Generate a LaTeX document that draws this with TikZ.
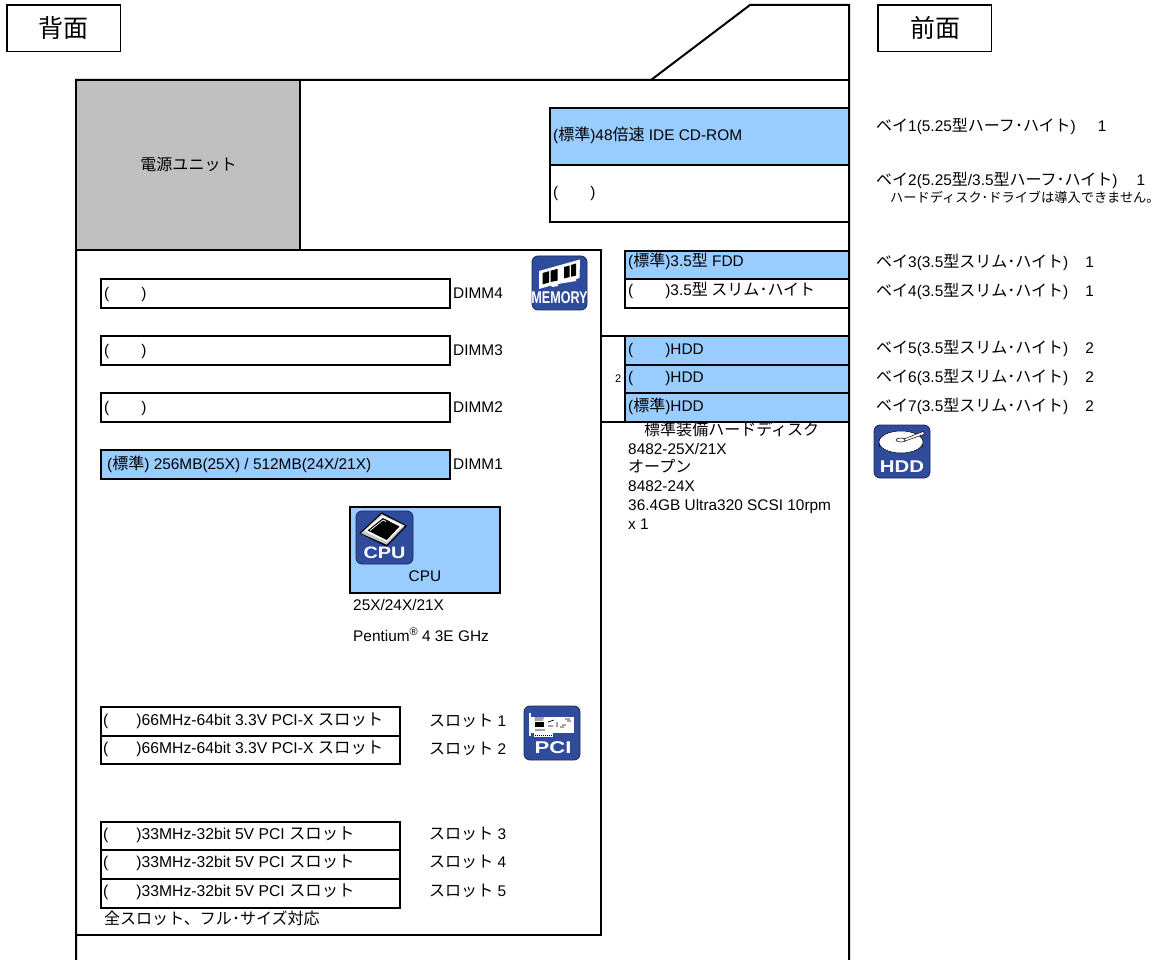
\documentclass[tikz,border=0pt]{standalone}
\usepackage{fontspec}
\setmainfont{Liberation Sans}
\newfontfamily\jp{Noto Sans CJK JP}[Scale=1.04]
\definecolor{bay}{HTML}{99CCFF}
\definecolor{psu}{HTML}{C0C0C0}
\definecolor{icon}{HTML}{2F4B9B}
\definecolor{icoedge}{HTML}{1A2A55}
\newcommand{\fs}[1]{\fontsize{#1}{#1}\selectfont}
\newcommand{\gap}{\hspace{32pt}}
\newcommand{\gapb}{\hspace{28pt}}
\newcommand{\gapc}{\hspace{17pt}}
\tikzset{
  x=1pt,y=-1pt,
  wall/.style={draw=black,line width=2pt,line cap=butt},
  cell/.style={draw=black,line width=2pt,fill=white},
  bluecell/.style={draw=black,line width=2pt,fill=bay},
  capbox/.style={draw=black,line width=1.6pt,fill=white},
  lab/.style={anchor=base west,inner sep=0pt,font=\fs{15.4}},
  slotlab/.style={anchor=base west,inner sep=0pt,font=\fs{15.7}},
  tiny/.style={anchor=base west,inner sep=0pt,font=\fs{12.7}},
  ictx/.style={inner sep=0pt,text=white,font=\bfseries\fs{15}},
  iconbg/.style={fill=icon,draw=icoedge,line width=.8pt,rounded corners=6pt},
}
\begin{document}
\begin{tikzpicture}
\useasboundingbox (0,0) rectangle (1160,960);
\fill[white] (0,0) rectangle (1160,960);
% captions
\draw[capbox] (7,5) rectangle (120.5,51.5);
\node[inner sep=0pt,font=\fs{24}] (back) at (63.5,28) {\jp 背面};
\draw[capbox] (878,5) rectangle (991.5,51.5);
\node[inner sep=0pt,font=\fs{24}] (front) at (935,28) {\jp 前面};
% chassis
\draw[wall] (76,960) -- (76,80) -- (651,80) -- (750,5) -- (849,5) -- (849,960);
\draw[wall] (651,80) -- (849,80);
% PSU
\draw[cell,fill=psu] (76,80) rectangle (300,250);
\node[inner sep=0pt,font=\fs{15.4}] (psutext) at (188.5,164) {\jp 電源ユニット};
% motherboard
\draw[wall] (76,250.5) -- (600.5,250.5) -- (600.5,935) -- (76,935);
% CD bays
\draw[bluecell] (550,108) rectangle (849,165);
\draw[cell] (550,165) rectangle (849,222);
\node[lab] (bay1t) at (553,140.5) {({\jp 標準})48{\jp 倍速} IDE CD-ROM};
\node[lab] (bay2t) at (553,198) {(\gap)};
% FDD bays
\draw[bluecell] (625,251) rectangle (849,279);
\draw[cell] (625,279) rectangle (849,308);
\node[lab] (bay3t) at (628,267) {({\jp 標準})3.5{\jp 型} FDD};
\node[lab] (bay4t) at (628,296) {(\gap)3.5{\jp 型 スリム･ハイト}};
% HDD text (its first line runs under the bays)
\node[lab] (hddcap) at (644,435) {\jp 標準装備ハードディスク};
\node[lab] (h2) at (628,454) {8482-25X/21X};
\node[lab] (h3) at (628,472) {\jp オープン};
\node[lab] (h4) at (628,491) {8482-24X};
\node[lab] (h5) at (628,510) {36.4GB Ultra320 SCSI 10rpm};
\node[lab] (h6) at (628,529) {x 1};
% HDD bays
\draw[wall] (600,336) -- (625,336);
\draw[wall] (600,422) -- (625,422);
\draw[bluecell] (625,336) rectangle (849,365);
\draw[bluecell] (625,365) rectangle (849,393);
\draw[bluecell] (625,393) rectangle (849,422);
\node[lab] (bay5t) at (628,354) {(\gap)HDD};
\node[lab] (bay6t) at (628,382) {(\gap)HDD};
\node[lab] (bay7t) at (628,411) {({\jp 標準})HDD};
\node[inner sep=0pt,anchor=base west,font=\fs{11}] (two) at (615,382) {2};
% DIMMs
\draw[cell] (101,279) rectangle (450,308);
\draw[cell] (101,336) rectangle (450,365);
\draw[cell] (101,393) rectangle (450,422);
\draw[bluecell] (101,450) rectangle (450,479);
\node[lab] (d4a) at (104,298.5) {(\gap)};
\node[lab] (d3a) at (104,355.5) {(\gap)};
\node[lab] (d2a) at (104,412.5) {(\gap)};
\node[lab] (d1a) at (107,469.5) {({\jp 標準}) 256MB(25X) / 512MB(24X/21X)};
\node[lab] (d4) at (453,298.5) {DIMM4};
\node[lab] (d3) at (453,355.5) {DIMM3};
\node[lab] (d2) at (453,412.5) {DIMM2};
\node[lab] (d1) at (453,469.5) {DIMM1};
% CPU
\draw[bluecell] (350,507) rectangle (500,593);
\node[lab,anchor=base] (cput) at (425,581) {CPU};
\node[lab] (c1) at (353,610) {25X/24X/21X};
\node[lab] (c2) at (353,641) {Pentium\raisebox{5.5pt}{\fs{11}®} 4 3E GHz};
% PCI slots
\draw[cell] (101,707) rectangle (400,735.5);
\draw[cell] (101,735.5) rectangle (400,764);
\draw[cell] (101,822) rectangle (400,850);
\draw[cell] (101,850) rectangle (400,879);
\draw[cell] (101,879) rectangle (400,908);
\node[slotlab] (p1) at (103,725.5) {(\gapb)66MHz-64bit 3.3V PCI-X {\jp スロット}};
\node[slotlab] (p2) at (103,753.5) {(\gapb)66MHz-64bit 3.3V PCI-X {\jp スロット}};
\node[slotlab] (p3) at (103,839) {(\gapb)33MHz-32bit 5V PCI {\jp スロット}};
\node[slotlab] (p4) at (103,867) {(\gapb)33MHz-32bit 5V PCI {\jp スロット}};
\node[slotlab] (p5) at (103,896) {(\gapb)33MHz-32bit 5V PCI {\jp スロット}};
\node[lab] (s1) at (429,726) {{\jp スロット} 1};
\node[lab] (s2) at (429,754) {{\jp スロット} 2};
\node[lab] (s3) at (429,839) {{\jp スロット} 3};
\node[lab] (s4) at (429,867) {{\jp スロット} 4};
\node[lab] (s5) at (429,896) {{\jp スロット} 5};
\node[lab] (note) at (104,924) {\jp 全スロット、フル･サイズ対応};
% bay descriptions
\node[lab] (b1) at (876,132) {{\jp ベイ}1(5.25{\jp 型ハーフ･ハイト})\hspace{22pt}1};
\node[lab] (b2) at (876,186) {{\jp ベイ}2(5.25{\jp 型}/3.5{\jp 型ハーフ･ハイト})\hspace{19pt}1};
\node[tiny] (b2n) at (890,202.5) {\jp ハードディスク･ドライブは導入できません。};
\node[lab] (b3) at (876,268) {{\jp ベイ}3(3.5{\jp 型スリム･ハイト})\gapc 1};
\node[lab] (b4) at (876,297) {{\jp ベイ}4(3.5{\jp 型スリム･ハイト})\gapc 1};
\node[lab] (b5) at (876,353.5) {{\jp ベイ}5(3.5{\jp 型スリム･ハイト})\gapc 2};
\node[lab] (b6) at (876,382.5) {{\jp ベイ}6(3.5{\jp 型スリム･ハイト})\gapc 2};
\node[lab] (b7) at (876,411.5) {{\jp ベイ}7(3.5{\jp 型スリム･ハイト})\gapc 2};
% MEMORY icon
\begin{scope}[shift={(532,256)}]
  \draw[iconbg] (0,0) rectangle (55,54);
  \fill[white] (7,15) -- (48,3.5) -- (47.5,22) -- (44,23) -- (44,25) -- (26,28) -- (26,30) -- (20,31) -- (19,29.5) -- (7,33) -- cycle;
  \fill[black] (10.7,17) -- (17,15.2) -- (17,26.5) -- (10.7,28.3) -- cycle;
  \fill[black] (18.5,14.8) -- (25.7,12.8) -- (25.7,24.5) -- (18.5,26) -- cycle;
  \fill[black] (32,11) -- (37.5,9.5) -- (37.5,21) -- (32,22.5) -- cycle;
  \fill[black] (39,9) -- (44,7.5) -- (44,19.5) -- (39,20.8) -- cycle;
  \node[ictx,xscale=.74,font=\bfseries\fs{17}] (memtext) at (27.5,42) {MEMORY};
\end{scope}
% CPU icon
\begin{scope}[shift={(356,511)}]
  \draw[iconbg] (0,0) rectangle (57,53);
  \fill[black] (3.3,22.3) -- (25.7,1.3) -- (51,14.7) -- (30.7,35.7) -- cycle;
  \fill[gray!45] (5,22.3) -- (25.7,3) -- (49,14.7) -- (30.7,33.7) -- cycle;
  \fill[white] (8,20) -- (26.5,4.5) -- (47,14.5) -- (30.7,31) -- cycle;
  \fill[black] (11.5,19.5) -- (27,7) -- (43.5,15.5) -- (30.7,29) -- cycle;
  \draw[white,line width=.7pt] (14,19.5) -- (27,9) -- (30,10.5);
  \node[ictx,xscale=1.2,font=\bfseries\fs{16.5}] (cputext) at (28.5,41.5) {CPU};
\end{scope}
% PCI icon
\begin{scope}[shift={(524,706)}]
  \draw[iconbg] (0,0) rectangle (56,54);
  \fill[white] (5,6.7) rectangle (7.3,30);
  \fill[white] (7,10.7) rectangle (49.7,27.3);
  \fill[white] (10,27) rectangle (29,31);
  \fill[black] (10.5,16) rectangle (20,21);
  \draw[black,line width=.7pt] (10.5,12) -- (20,12) (10.5,14) -- (19,14) (24,16) -- (30,14) (24,20) -- (29,20) (33,16) -- (33,21) (38,19) -- (42,19) (41,13) -- (46,13) (43,15) -- (47,15) (11,24) -- (21,24) (36,21) -- (40,21);
  \draw[black,line width=.4pt,dash pattern=on 1pt off 1pt] (11,29) -- (28,29);
  \node[ictx,xscale=1.3,font=\bfseries\fs{17}] (pcitext) at (29,41.5) {PCI};
\end{scope}
% HDD icon
\begin{scope}[shift={(874,425)}]
  \draw[iconbg] (0,0) rectangle (56,53);
  \fill[white] (5,21) arc[start angle=180,end angle=360,x radius=22,y radius=10] -- (49,17) -- (5,17) -- cycle;
  \draw[black,line width=.7pt] (5,17) arc[start angle=180,end angle=360,x radius=22,y radius=10] (5,19.5) arc[start angle=180,end angle=360,x radius=22,y radius=10] (5,22) arc[start angle=180,end angle=360,x radius=22,y radius=10];
  \fill[white,draw=black,line width=.5pt] (27,17) ellipse[x radius=22,y radius=11];
  \draw[black,line width=.5pt,fill=white] (27,15) ellipse[x radius=5,y radius=2];
  \draw[black,line width=.5pt,fill=white] (30,14) -- (49,6.5) -- (51,9) -- (31,16) -- cycle;
  \node[ictx,xscale=1.2,font=\bfseries\fs{17}] (hddtext) at (28,41.5) {HDD};
\end{scope}
\end{tikzpicture}
\end{document}
